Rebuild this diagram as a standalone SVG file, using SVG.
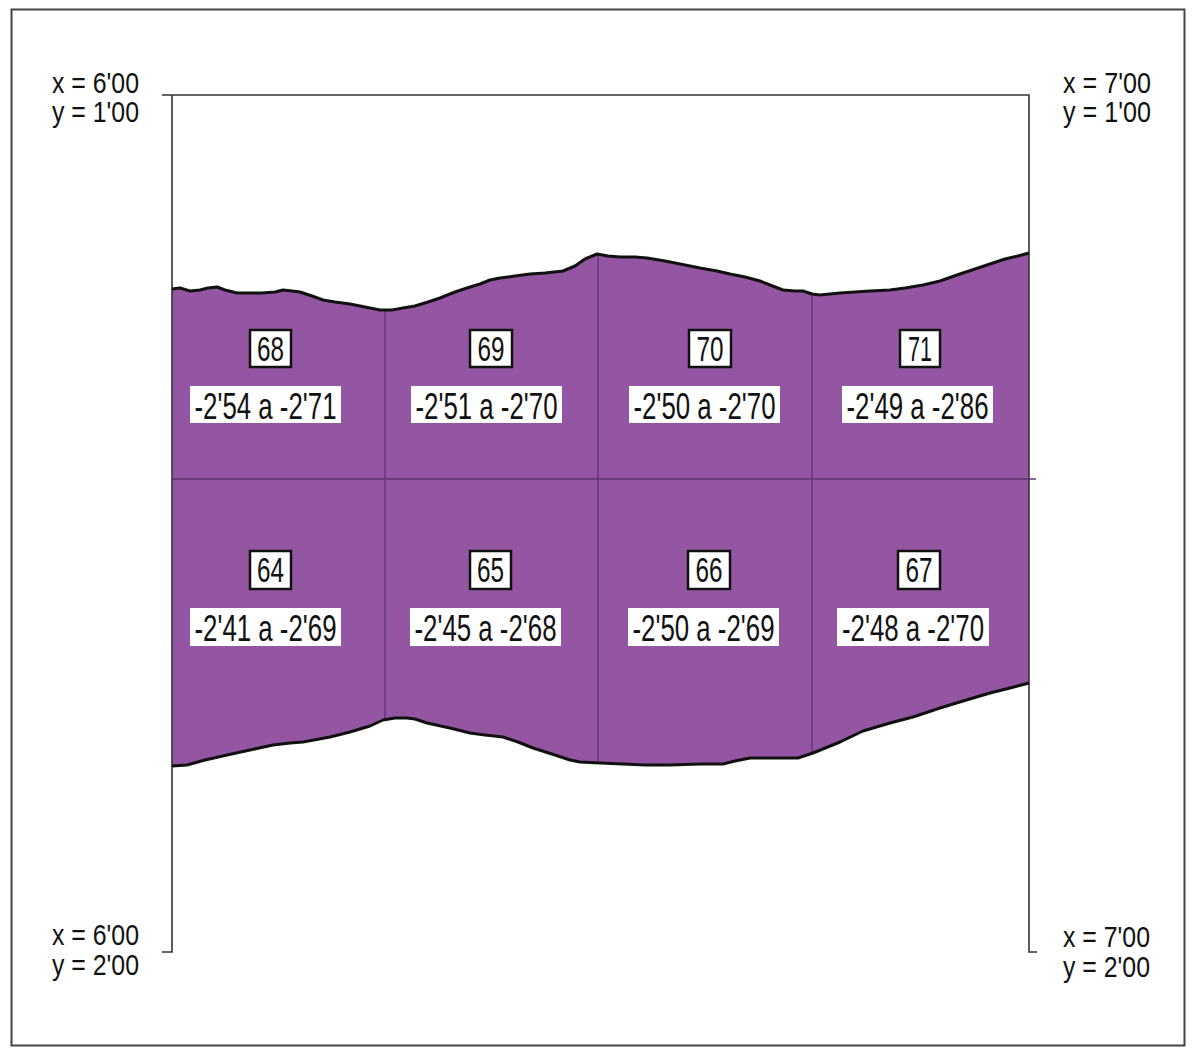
<svg xmlns="http://www.w3.org/2000/svg" width="1195" height="1060" viewBox="0 0 1195 1060">
<style>
.t{font-family:"Liberation Sans",Arial,sans-serif;fill:#111;}
.num{font-size:35px;}
.rng{font-size:37px;}
.crd{font-size:30px;}
.nbox{fill:#fff;stroke:#111;stroke-width:2.5;}
.rbox{fill:#fff;stroke:none;}
.axis{fill:none;stroke:#333;stroke-width:1.6;}
.div{fill:none;stroke:#5e3470;stroke-width:1.3;}
.edge{fill:none;stroke:#111;stroke-width:3;stroke-linejoin:round;}
</style>
<rect x="0" y="0" width="1195" height="1060" fill="#fff"/>
<rect x="11.5" y="9.5" width="1173" height="1036" fill="none" stroke="#444" stroke-width="2"/>

<g id="area">
<path fill="#9456A3" d="M172,289 L180,288 190,291 200,290 208,288 217,287 225,290 237,293 250,293 262,293 275,292 283,290 292,291 300,292 312,296 323,300 335,302 350,304 365,307 380,310 392,310 403,308 415,306 428,302 440,298 455,292 467,288 480,284 490,280 500,278 515,276 530,274 545,273 563,271 575,266 585,259 597,254 608,256 620,257 635,257 647,258 665,261 680,264 700,268 717,271 730,274 745,277 760,281 770,285 783,290 795,291 803,291 812,294 820,295 830,294 840,293 855,292 870,291 890,290 905,288 923,285 940,281 957,275 975,269 990,264 1005,259 1018,256 1029,253 L1029,683 1010,688 990,693 963,701 940,708 913,717 890,723 863,731 840,742 813,753 798,758 775,758 750,758 735,761 723,764 700,764 670,765 645,765 623,764 600,763 580,762 570,760 555,755 533,748 518,742 503,737 485,735 470,733 450,728 427,723 415,719 407,718 395,718 383,720 370,726 350,732 330,737 303,742 290,743 273,745 250,750 227,755 205,760 187,765 172,766 Z"/>
</g>

<g id="connectors">
<path class="axis" d="M162,95 H1029 V952 H1037"/>
<path class="axis" d="M172,95 V952 H162"/>
<line class="div" x1="172" y1="479" x2="1036" y2="479"/>
<line class="div" x1="385" y1="310" x2="385" y2="719"/>
<line class="div" x1="598" y1="254" x2="598" y2="763"/>
<line class="div" x1="812" y1="294" x2="812" y2="754"/>
<path class="edge" d="M172,289 L180,288 190,291 200,290 208,288 217,287 225,290 237,293 250,293 262,293 275,292 283,290 292,291 300,292 312,296 323,300 335,302 350,304 365,307 380,310 392,310 403,308 415,306 428,302 440,298 455,292 467,288 480,284 490,280 500,278 515,276 530,274 545,273 563,271 575,266 585,259 597,254 608,256 620,257 635,257 647,258 665,261 680,264 700,268 717,271 730,274 745,277 760,281 770,285 783,290 795,291 803,291 812,294 820,295 830,294 840,293 855,292 870,291 890,290 905,288 923,285 940,281 957,275 975,269 990,264 1005,259 1018,256 1029,253"/>
<path class="edge" d="M1029,683 L1010,688 990,693 963,701 940,708 913,717 890,723 863,731 840,742 813,753 798,758 775,758 750,758 735,761 723,764 700,764 670,765 645,765 623,764 600,763 580,762 570,760 555,755 533,748 518,742 503,737 485,735 470,733 450,728 427,723 415,719 407,718 395,718 383,720 370,726 350,732 330,737 303,742 290,743 273,745 250,750 227,755 205,760 187,765 172,766"/>
</g>

<g id="cell-68">
<rect class="nbox" x="250" y="330" width="41" height="37"/>
<text class="t num" x="270.5" y="361" text-anchor="middle" textLength="27" lengthAdjust="spacingAndGlyphs">68</text>
<rect class="rbox" x="190" y="386" width="151" height="37"/>
<text class="t rng" x="265.5" y="419" text-anchor="middle" textLength="142" lengthAdjust="spacingAndGlyphs">-2'54 a -2'71</text>
</g>
<g id="cell-69">
<rect class="nbox" x="470" y="330" width="42" height="37"/>
<text class="t num" x="491" y="361" text-anchor="middle" textLength="27" lengthAdjust="spacingAndGlyphs">69</text>
<rect class="rbox" x="411" y="386" width="151" height="37"/>
<text class="t rng" x="486.5" y="419" text-anchor="middle" textLength="142" lengthAdjust="spacingAndGlyphs">-2'51 a -2'70</text>
</g>
<g id="cell-70">
<rect class="nbox" x="689" y="330" width="42" height="37"/>
<text class="t num" x="710" y="361" text-anchor="middle" textLength="27" lengthAdjust="spacingAndGlyphs">70</text>
<rect class="rbox" x="629" y="386" width="151" height="37"/>
<text class="t rng" x="704.5" y="419" text-anchor="middle" textLength="142" lengthAdjust="spacingAndGlyphs">-2'50 a -2'70</text>
</g>
<g id="cell-71">
<rect class="nbox" x="900" y="330" width="40" height="37"/>
<text class="t num" x="920" y="361" text-anchor="middle" textLength="24" lengthAdjust="spacingAndGlyphs">71</text>
<rect class="rbox" x="842" y="386" width="151" height="37"/>
<text class="t rng" x="917.5" y="419" text-anchor="middle" textLength="142" lengthAdjust="spacingAndGlyphs">-2'49 a -2'86</text>
</g>

<g id="cell-64">
<rect class="nbox" x="250" y="551" width="41" height="38"/>
<text class="t num" x="270.5" y="582" text-anchor="middle" textLength="27" lengthAdjust="spacingAndGlyphs">64</text>
<rect class="rbox" x="190" y="608" width="151" height="38"/>
<text class="t rng" x="265.5" y="641" text-anchor="middle" textLength="142" lengthAdjust="spacingAndGlyphs">-2'41 a -2'69</text>
</g>
<g id="cell-65">
<rect class="nbox" x="470" y="551" width="41" height="38"/>
<text class="t num" x="490.5" y="582" text-anchor="middle" textLength="27" lengthAdjust="spacingAndGlyphs">65</text>
<rect class="rbox" x="410" y="608" width="151" height="38"/>
<text class="t rng" x="485.5" y="641" text-anchor="middle" textLength="142" lengthAdjust="spacingAndGlyphs">-2'45 a -2'68</text>
</g>
<g id="cell-66">
<rect class="nbox" x="688" y="551" width="42" height="38"/>
<text class="t num" x="709" y="582" text-anchor="middle" textLength="27" lengthAdjust="spacingAndGlyphs">66</text>
<rect class="rbox" x="628" y="608" width="151" height="38"/>
<text class="t rng" x="703.5" y="641" text-anchor="middle" textLength="142" lengthAdjust="spacingAndGlyphs">-2'50 a -2'69</text>
</g>
<g id="cell-67">
<rect class="nbox" x="898" y="551" width="42" height="38"/>
<text class="t num" x="919" y="582" text-anchor="middle" textLength="27" lengthAdjust="spacingAndGlyphs">67</text>
<rect class="rbox" x="837" y="608" width="152" height="38"/>
<text class="t rng" x="913" y="641" text-anchor="middle" textLength="142" lengthAdjust="spacingAndGlyphs">-2'48 a -2'70</text>
</g>

<g id="corner-tl">
<text class="t crd" x="52" y="93" textLength="87" lengthAdjust="spacingAndGlyphs">x = 6'00</text>
<text class="t crd" x="52" y="122" textLength="87" lengthAdjust="spacingAndGlyphs">y = 1'00</text>
</g>
<g id="corner-tr">
<text class="t crd" x="1063" y="93" textLength="88" lengthAdjust="spacingAndGlyphs">x = 7'00</text>
<text class="t crd" x="1063" y="122" textLength="88" lengthAdjust="spacingAndGlyphs">y = 1'00</text>
</g>
<g id="corner-bl">
<text class="t crd" x="52" y="945" textLength="87" lengthAdjust="spacingAndGlyphs">x = 6'00</text>
<text class="t crd" x="52" y="975" textLength="87" lengthAdjust="spacingAndGlyphs">y = 2'00</text>
</g>
<g id="corner-br">
<text class="t crd" x="1063" y="947" textLength="87" lengthAdjust="spacingAndGlyphs">x = 7'00</text>
<text class="t crd" x="1063" y="977" textLength="87" lengthAdjust="spacingAndGlyphs">y = 2'00</text>
</g>
</svg>
